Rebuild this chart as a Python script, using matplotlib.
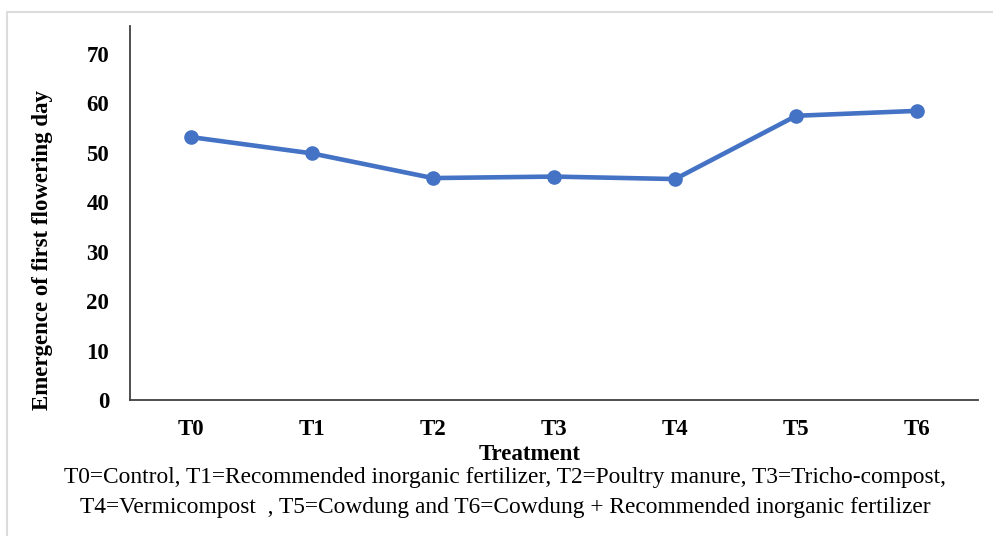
import matplotlib
matplotlib.use("Agg")
import matplotlib.pyplot as plt
from matplotlib.patches import Rectangle

categories = ["T0", "T1", "T2", "T3", "T4", "T5", "T6"]
values = [53.2, 49.9, 44.9, 45.2, 44.7, 57.5, 58.5]
yticks = [0, 10, 20, 30, 40, 50, 60, 70]
caption_lines = ["T0=Control, T1=Recommended inorganic fertilizer, T2=Poultry manure, T3=Tricho-compost,",
                 "T4=Vermicompost  , T5=Cowdung and T6=Cowdung + Recommended inorganic fertilizer"]

W, H = 993, 536
fig = plt.figure(figsize=(W / 100, H / 100), dpi=100)
fig.patch.set_facecolor("white")

# light gray frame (top/left visible)
fig.patches.append(Rectangle((7 / W, -0.05), 1.1, (H - 12) / H + 0.05,
                             transform=fig.transFigure, fill=False,
                             edgecolor="#dcdcdc", linewidth=1.5))

left, right, top, bottom = 130, 978, 26, 400
ax = fig.add_axes([left / W, (H - bottom) / H, (right - left) / W, (bottom - top) / H])
ymax = 70 * (bottom - top) / (bottom - 54)
ax.set_ylim(0, ymax)
ax.set_xlim(-0.5, len(categories) - 0.5)

x = list(range(len(categories)))
ax.plot(x, values, color="#4472C4", linewidth=3.3, marker="o", markersize=9.5,
        solid_capstyle="round")

for s in ["top", "right"]:
    ax.spines[s].set_visible(False)
for s in ["left", "bottom"]:
    ax.spines[s].set_color("#404040")
    ax.spines[s].set_linewidth(1.3)

serif = "Liberation Serif"
fs = 16.5
ax.set_yticks(yticks)
ax.set_yticklabels([str(v) for v in yticks], fontfamily=serif, fontweight="bold", fontsize=fs)
ax.set_xticks(x)
ax.set_xticklabels(categories, fontfamily=serif, fontweight="bold", fontsize=fs)
ax.tick_params(axis="both", length=0)
ax.tick_params(axis="y", pad=15)
ax.tick_params(axis="x", pad=13.5)

fig.text(530 / W, 1 - 455 / H, "Treatment", ha="center", va="center",
         fontfamily=serif, fontweight="bold", fontsize=fs)
fig.text(43 / W, 1 - 250 / H, "Emergence of first flowering day", ha="center", va="center",
         rotation=90, fontfamily=serif, fontweight="bold", fontsize=fs)
fig.text(505 / W, 1 - 477 / H, caption_lines[0], ha="center", va="center",
         fontfamily=serif, fontsize=16.8)
fig.text(505 / W, 1 - 507 / H, caption_lines[1], ha="center", va="center",
         fontfamily=serif, fontsize=16.8)

fig.savefig("out.png", dpi=100, facecolor="white")
